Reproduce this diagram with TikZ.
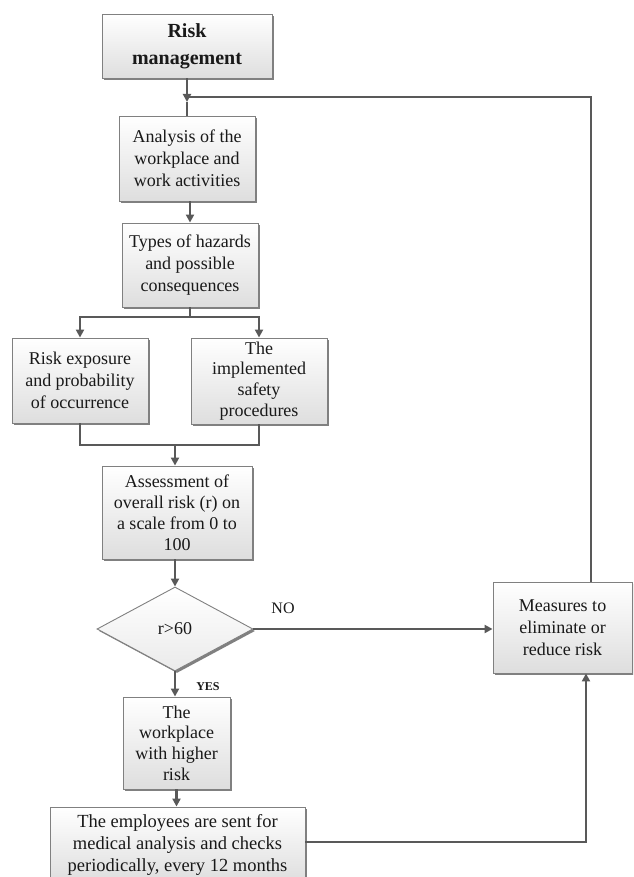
\documentclass[tikz,border=0pt]{standalone}
\usepackage{fontspec}
\setmainfont{Liberation Serif}
\usetikzlibrary{shapes.geometric,shadows,arrows.meta,calc}
\begin{document}
\begin{tikzpicture}[x=1pt,y=-1pt,
  box/.style={draw=black!50, line width=0.9pt, top color=white, bottom color=black!13,
    drop shadow={shadow xshift=2pt,shadow yshift=-2pt,fill=black!55,opacity=0.9},
    align=center, inner sep=0pt, font=\fontsize{18}{22}\selectfont, text=black!90},
  dia/.style={box, diamond, bottom color=black!8},
  conn/.style={draw=black!65, line width=2.4pt},
  arr/.style={conn, -{Triangle[length=8pt,width=8pt]}},
  lbl/.style={inner sep=0pt, text=black!90}
]
\clip (0,0) rectangle (633,877);
\fill[white] (0,0) rectangle (633,877);

\node[box, minimum width=170pt, minimum height=64pt, font=\bfseries\fontsize{20}{27}\selectfont] (rm) at (187,46) {Risk\\management};
\node[box, minimum width=136pt, minimum height=85pt] (an) at (187,158.5) {Analysis of the\\workplace and\\work activities};
\node[box, minimum width=136pt, minimum height=84pt] (ty) at (190,265) {Types of hazards\\and possible\\consequences};
\node[box, minimum width=136pt, minimum height=85pt] (re) at (80,380.5) {Risk exposure\\and probability\\of occurrence};
\node[box, minimum width=136pt, minimum height=86pt, font=\fontsize{18}{20.7}\selectfont] (sp) at (259,381) {The\\implemented\\safety\\procedures};
\node[box, minimum width=150pt, minimum height=93pt, font=\fontsize{18}{21}\selectfont] (as) at (177,512.5) {Assessment of\\overall risk (r) on\\a scale from 0 to\\100};
\node[dia, minimum width=156pt, minimum height=84pt] (dm) at (175,629) {r>60};
\node[box, minimum width=139pt, minimum height=91pt] (ms) at (562.5,627.5) {Measures to\\eliminate or\\reduce risk};
\node[box, minimum width=107pt, minimum height=92pt, font=\fontsize{18}{20.7}\selectfont] (wp) at (176.5,743) {The\\workplace\\with higher\\risk};
\node[box, minimum width=255pt, minimum height=76pt, font=\fontsize{18.5}{22}\selectfont] (em) at (177.5,845) {The employees are sent for\\medical analysis and checks\\periodically, every 12 months};

\node[lbl, font=\fontsize{16}{18}\selectfont] (no) at (283,608) {NO};
\node[lbl, font=\bfseries\fontsize{12}{14}\selectfont] (yes) at (208,687) {YES};

% connectors
\coordinate (j) at (187,102);
\coordinate (ret) at (591,97);
\draw[arr] (rm.south) -- (j);
\draw[conn] (j) -- (an.north);
\draw[conn] (ms.north -| ret) -- (ret) -- (ret -| rm.south);

\draw[arr] (an.south -| ty.north) -- (ty.north);

\coordinate (s1) at (190,317);
\draw[conn] (ty.south) -- (s1);
\draw[arr] (s1) -| (re.north);
\draw[arr] (s1) -| (sp.north);

\coordinate (m1) at (175,445);
\draw[conn] (re.south) |- (m1);
\draw[conn] (sp.south) |- (m1);
\draw[arr] (m1) -- (m1 |- as.north);

\draw[arr] (as.south -| dm.north) -- (dm.north);
\draw[arr] (dm.east) -- (ms.west |- dm.east);
\draw[arr] (dm.south) -- (dm.south |- wp.north);
\draw[arr] (wp.south) -- (wp.south |- em.north);

\coordinate (b) at (586,842);
\draw[arr] (em.east |- b) -- (b) -- (b |- ms.south);
\end{tikzpicture}
\end{document}
